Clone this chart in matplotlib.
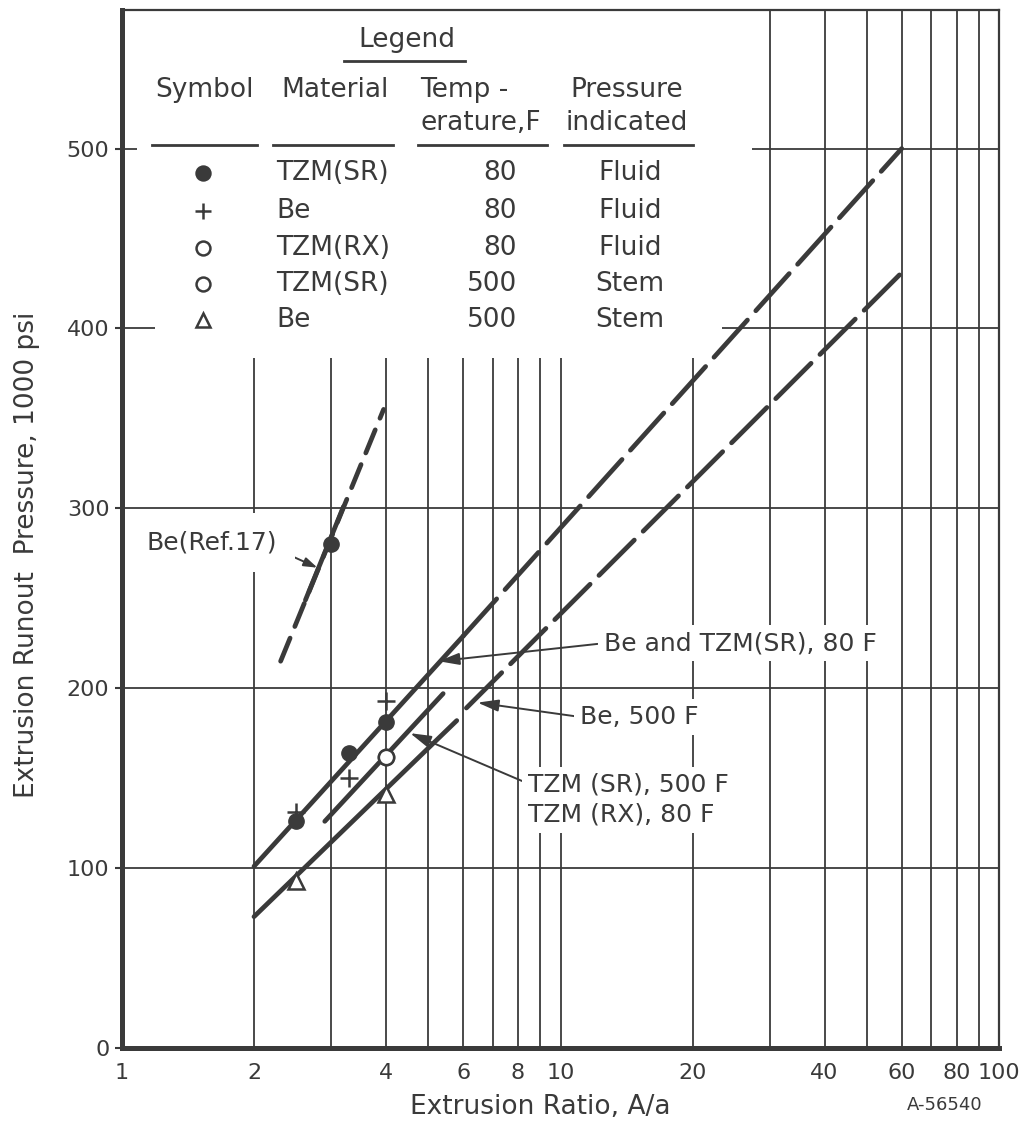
import matplotlib
matplotlib.use('Agg')
import matplotlib.pyplot as plt
from matplotlib.patches import Rectangle
from matplotlib.ticker import NullFormatter

# points: extrusion ratio A/a vs runout pressure (1000 psi)
tzm_sr_80_x = [2.5, 3.3, 4.0]
tzm_sr_80_y = [126, 164, 181]
be_80_x = [2.5, 3.3, 4.0]
be_80_y = [131, 150, 193]
tzm_rx_80_x = [4.0]
tzm_rx_80_y = [162]
tzm_sr_500_x = [4.0]
tzm_sr_500_y = [162]
be_500_x = [2.5, 4.0]
be_500_y = [93, 141]
be_ref17_x = [3.0]
be_ref17_y = [280]

# drawn curves (end points)
fit80_solid_x = [2.0, 6.0]
fit80_solid_y = [101, 229]
fit80_dash_x = [6.0, 60.0]
fit80_dash_y = [229, 500]
fit_tzm_x = [2.9, 5.4]
fit_tzm_y = [126, 197]
fit_be500_solid_x = [2.0, 5.8]
fit_be500_solid_y = [73, 182]
fit_be500_dash_x = [6.1, 60.0]
fit_be500_dash_y = [189, 431]
ref17_dash_x = [2.3, 3.95]
ref17_dash_y = [215, 355]
ref17_solid_x = [2.62, 3.2]
ref17_solid_y = [249, 301]

# legend table
leg_material = ['TZM(SR)', 'Be', 'TZM(RX)', 'TZM(SR)', 'Be']
leg_temp = ['80', '80', '80', '500', '500']
leg_pressure = ['Fluid', 'Fluid', 'Fluid', 'Stem', 'Stem']
leg_marker = ['o', '+', 'o', 'o', '^']
leg_filled = [True, False, False, False, False]

x_major = [1, 2, 4, 6, 8, 10, 20, 40, 60, 80, 100]
x_minor = [3, 5, 7, 9, 30, 50, 70, 90]
y_ticks = [0, 100, 200, 300, 400, 500]

ink = '#3a3a3a'
plt.rcParams['font.family'] = 'DejaVu Sans'
plt.rcParams['lines.scale_dashes'] = False
plt.rcParams['text.color'] = ink

fig = plt.figure(figsize=(10.30, 11.36), dpi=100)
ax = fig.add_axes([122 / 1030, 1 - 1048 / 1136, 877 / 1030, 1038 / 1136])

ax.set_xscale('log')
ax.set_xlim(1, 100)
ax.set_ylim(0, 577)
ax.set_xticks(x_major)
ax.set_xticklabels([str(v) for v in x_major])
ax.set_xticks(x_minor, minor=True)
ax.xaxis.set_minor_formatter(NullFormatter())
ax.set_yticks(y_ticks)
ax.set_axisbelow(True)
ax.grid(True, which='both', axis='x', color=ink, lw=1.3)
ax.grid(True, which='major', axis='y', color=ink, lw=1.3)
ax.tick_params(axis='x', which='both', length=0, pad=11, labelsize=16, labelcolor=ink)
ax.tick_params(axis='y', length=5, width=1.5, color=ink, pad=4, labelsize=16, labelcolor=ink)
for s in ['left', 'bottom']:
    ax.spines[s].set_linewidth(3.6)
    ax.spines[s].set_color(ink)
for s in ['top', 'right']:
    ax.spines[s].set_linewidth(1.6)
    ax.spines[s].set_color(ink)

ax.set_xlabel('Extrusion Ratio, A/a', fontsize=19, color=ink)
ax.set_ylabel('Extrusion Runout  Pressure, 1000 psi', fontsize=19, color=ink)
ax.xaxis.set_label_coords(0.477, -0.044)
ax.yaxis.set_label_coords(-0.093, 0.475)

# blank out the grid behind the legend table
ax.add_patch(Rectangle((0.017, 0.699), 0.701, 0.301, transform=ax.transAxes,
                       facecolor='white', edgecolor='none', zorder=1.5))
ax.add_patch(Rectangle((0.0376, 0.665), 0.647, 0.04, transform=ax.transAxes,
                       facecolor='white', edgecolor='none', zorder=1.5))

lw = 3.4
kw = dict(color=ink, lw=lw, solid_capstyle='round', dash_capstyle='round', zorder=3)
ax.plot(fit80_solid_x, fit80_solid_y, **kw)
ax.plot(fit80_dash_x, fit80_dash_y, dashes=(36, 9), **kw)
ax.plot(fit_tzm_x, fit_tzm_y, **kw)
ax.plot(fit_be500_solid_x, fit_be500_solid_y, **kw)
ax.plot(fit_be500_dash_x, fit_be500_dash_y, dashes=(36, 9), **kw)
ax.plot(ref17_dash_x, ref17_dash_y, dashes=(18, 9), **kw)
ax.plot(ref17_solid_x, ref17_solid_y, **kw)

mk = dict(ls='none', zorder=4, color=ink)
ax.plot(tzm_sr_80_x, tzm_sr_80_y, marker='o', ms=11, **mk)
ax.plot(be_ref17_x, be_ref17_y, marker='o', ms=11, **mk)
ax.plot(be_80_x, be_80_y, marker='+', ms=13, mew=1.8, **mk)
ax.plot(tzm_rx_80_x, tzm_rx_80_y, marker='o', ms=11, mfc='white', mew=1.8, **mk)
ax.plot(tzm_sr_500_x, tzm_sr_500_y, marker='o', ms=11, mfc='white', mew=1.8, **mk)
ax.plot(be_500_x, be_500_y, marker='^', ms=12, mfc='white', mew=1.8, **mk)

# legend table
tfs = 19
T = ax.transAxes
ax.text(0.325, 0.971, 'Legend', transform=T, ha='center', va='center', fontsize=tfs, zorder=5)
ax.plot([0.253, 0.391], [0.951, 0.951], transform=T, color=ink, lw=2, zorder=5)
ax.text(0.0946, 0.923, 'Symbol', transform=T, ha='center', va='center', fontsize=tfs, zorder=5)
ax.text(0.243, 0.923, 'Material', transform=T, ha='center', va='center', fontsize=tfs, zorder=5)
ax.text(0.340, 0.923, 'Temp -', transform=T, ha='left', va='center', fontsize=tfs, zorder=5)
ax.text(0.340, 0.891, 'erature,F', transform=T, ha='left', va='center', fontsize=tfs, zorder=5)
ax.text(0.576, 0.923, 'Pressure', transform=T, ha='center', va='center', fontsize=tfs, zorder=5)
ax.text(0.576, 0.891, 'indicated', transform=T, ha='center', va='center', fontsize=tfs, zorder=5)
for x0, x1 in [(0.034, 0.154), (0.172, 0.309), (0.3375, 0.4846), (0.504, 0.651)]:
    ax.plot([x0, x1], [0.870, 0.870], transform=T, color=ink, lw=2, zorder=5)

row_y = [0.843, 0.806, 0.771, 0.736, 0.701]
for i in range(len(leg_material)):
    ry = row_y[i]
    ax.plot([0.0924], [ry], transform=T, marker=leg_marker[i], ms=10 if leg_marker[i] != '+' else 12,
            mfc=ink if leg_filled[i] else 'white', mec=ink, mew=1.8, ls='none', zorder=5, clip_on=False)
    ax.text(0.1756, ry, leg_material[i], transform=T, ha='left', va='center', fontsize=tfs, zorder=5)
    ax.text(0.4504, ry, leg_temp[i], transform=T, ha='right', va='center', fontsize=tfs, zorder=5)
    ax.text(0.579, ry, leg_pressure[i], transform=T, ha='center', va='center', fontsize=tfs, zorder=5)

# callouts
box = dict(boxstyle='square,pad=0.25', fc='white', ec='none')
arw = dict(arrowstyle='-|>,head_length=0.7,head_width=0.2', color=ink, lw=1.4, shrinkA=0, shrinkB=0)
afs = 18
ax.annotate('Be(Ref.17)', xy=(2.79, 267), xytext=(1.14, 281), ha='left', va='center',
            fontsize=afs, zorder=5, bbox=dict(boxstyle='square,pad=0.7', fc='white', ec='none'),
            arrowprops=dict(arw, arrowstyle='-|>,head_length=0.45,head_width=0.15',
                            relpos=(0.89, 0.47), patchA=None))
ax.annotate('Be and TZM(SR), 80 F', xy=(5.27, 215), xytext=(12.55, 225), ha='left', va='center',
            fontsize=afs, bbox=box, zorder=5, arrowprops=dict(arw, relpos=(0, 0.5)))
ax.annotate('Be, 500 F', xy=(6.47, 192), xytext=(11.1, 184), ha='left', va='center',
            fontsize=afs, bbox=box, zorder=5, arrowprops=dict(arw, relpos=(0, 0.5)))
ax.annotate('TZM (SR), 500 F\nTZM (RX), 80 F', xy=(4.54, 175), xytext=(8.44, 138), ha='left',
            va='center', fontsize=afs, linespacing=1.3, bbox=box, zorder=5,
            arrowprops=dict(arw, relpos=(0, 0.8)))

fig.text(0.917, 0.027, 'A-56540', ha='center', va='center', fontsize=13, color=ink)

fig.savefig('out.png', dpi=100)
